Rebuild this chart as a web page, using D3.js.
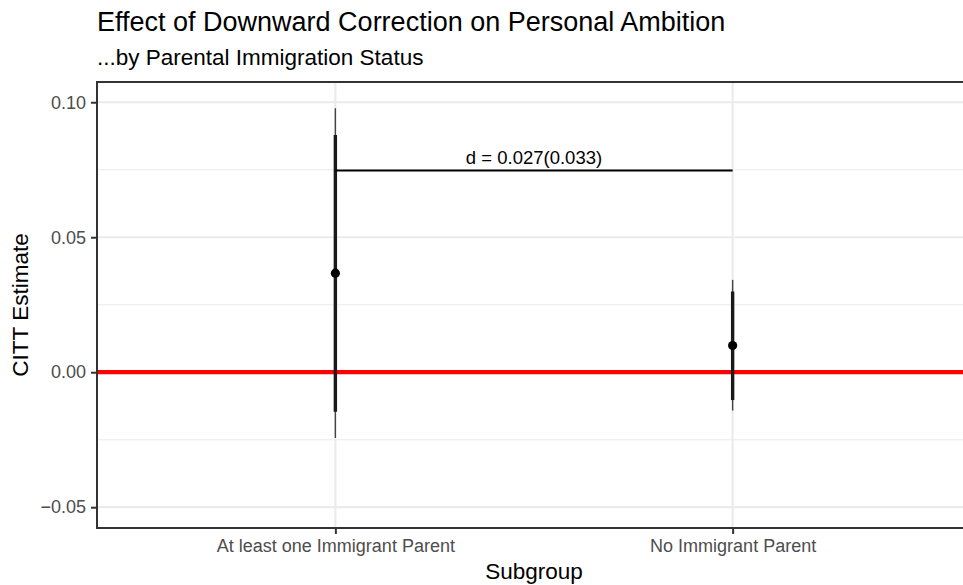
<!DOCTYPE html>
<html><head><meta charset="utf-8">
<script src="https://cdn.jsdelivr.net/npm/d3@7"></script>
<style>body{margin:0;background:#fff}svg{display:block;font-family:"Liberation Sans",Arial,sans-serif}</style>
</head><body>
<svg id="c" width="963" height="585"></svg>
<script>
const categories = ["At least one Immigrant Parent", "No Immigrant Parent"];
const estimates = [0.0367, 0.0099];
const ci90Low = [-0.0146, -0.0103];
const ci90High = [0.0879, 0.0299];
const ci95Low = [-0.0244, -0.0142];
const ci95High = [0.0978, 0.0342];
const yTicks = [-0.05, 0.00, 0.05, 0.10];
const yMinor = [-0.025, 0.025, 0.075];
const diffLabel = "d = 0.027(0.033)";
const diffY = 0.0747;

const FF = "Liberation Sans, Arial, sans-serif";
const svg = d3.select("#c");
const L = 97, R = 971, T = 82, B = 528;
const x = d3.scaleLinear().domain([0.4, 2.6]).range([L, R]);
const xc = c => x(categories.indexOf(c) + 1);
const y = d3.scaleLinear().domain([-0.0577, 0.1075]).range([B, T]);

const g = svg.append("g");
// gridlines
g.selectAll(".mn").data(yMinor).enter().append("line")
  .attr("x1", L).attr("x2", R).attr("y1", d => y(d)).attr("y2", d => y(d))
  .attr("stroke", "#EBEBEB").attr("stroke-width", 1.1);
g.selectAll(".mj").data(yTicks).enter().append("line")
  .attr("x1", L).attr("x2", R).attr("y1", d => y(d)).attr("y2", d => y(d))
  .attr("stroke", "#EBEBEB").attr("stroke-width", 2.2);
g.selectAll(".mx").data(categories).enter().append("line")
  .attr("x1", d => xc(d)).attr("x2", d => xc(d)).attr("y1", T).attr("y2", B)
  .attr("stroke", "#EBEBEB").attr("stroke-width", 2.2);

// zero line
g.append("line").attr("x1", L).attr("x2", R).attr("y1", y(0)).attr("y2", y(0))
  .attr("stroke", "#FF0000").attr("stroke-width", 4.2);

// intervals
categories.forEach((c, i) => {
  g.append("line").attr("x1", xc(c)).attr("x2", xc(c))
    .attr("y1", y(ci95Low[i])).attr("y2", y(ci95High[i]))
    .attr("stroke", "#444").attr("stroke-width", 1.4);
  g.append("line").attr("x1", xc(c)).attr("x2", xc(c))
    .attr("y1", y(ci90Low[i])).attr("y2", y(ci90High[i]))
    .attr("stroke", "#1a1a1a").attr("stroke-width", 3.4);
  g.append("circle").attr("cx", xc(c)).attr("cy", y(estimates[i])).attr("r", 4.6).attr("fill", "#000");
});

// bracket
g.append("line").attr("x1", xc(categories[0])).attr("x2", xc(categories[1]))
  .attr("y1", y(diffY)).attr("y2", y(diffY)).attr("stroke", "#000").attr("stroke-width", 2);
g.append("text").attr("x", (xc(categories[0]) + xc(categories[1])) / 2).attr("y", y(diffY) - 7)
  .attr("text-anchor", "middle").attr("font-size", 18.5).attr("fill", "#000").text(diffLabel);

// border
svg.append("rect").attr("x", L).attr("y", T).attr("width", R - L).attr("height", B - T)
  .attr("fill", "none").attr("stroke", "#333").attr("stroke-width", 2);

// axes
const ya = svg.append("g").attr("transform", `translate(${L},0)`)
  .call(d3.axisLeft(y).tickValues(yTicks).tickSize(6).tickPadding(5)
    .tickFormat(d => d3.format(".2f")(d).replace("-", "\u2212")));
ya.select(".domain").remove();
ya.selectAll("line").attr("stroke", "#333").attr("stroke-width", 2);
ya.selectAll("text").attr("fill", "#4D4D4D").attr("font-size", 18).attr("font-family", FF);

const xa = svg.append("g").attr("transform", `translate(0,${B})`)
  .call(d3.axisBottom(x).tickValues([1, 2]).tickSize(6).tickPadding(5).tickFormat(d => categories[d - 1]));
xa.select(".domain").remove();
xa.selectAll("line").attr("stroke", "#333").attr("stroke-width", 2);
xa.selectAll("text").attr("fill", "#4D4D4D").attr("font-size", 18).attr("font-family", FF);

// titles
svg.append("text").attr("x", L).attr("y", 31).attr("font-size", 27).attr("fill", "#000")
  .text("Effect of Downward Correction on Personal Ambition");
svg.append("text").attr("x", L).attr("y", 65).attr("font-size", 22.5).attr("fill", "#000")
  .text("...by Parental Immigration Status");
svg.append("text").attr("x", (L + R) / 2).attr("y", 579).attr("text-anchor", "middle")
  .attr("font-size", 22.5).attr("fill", "#000").text("Subgroup");
svg.append("text").attr("transform", `translate(28,${(T + B) / 2}) rotate(-90)`)
  .attr("text-anchor", "middle").attr("font-size", 22.5).attr("fill", "#000").text("CITT Estimate");
</script>
</body></html>
